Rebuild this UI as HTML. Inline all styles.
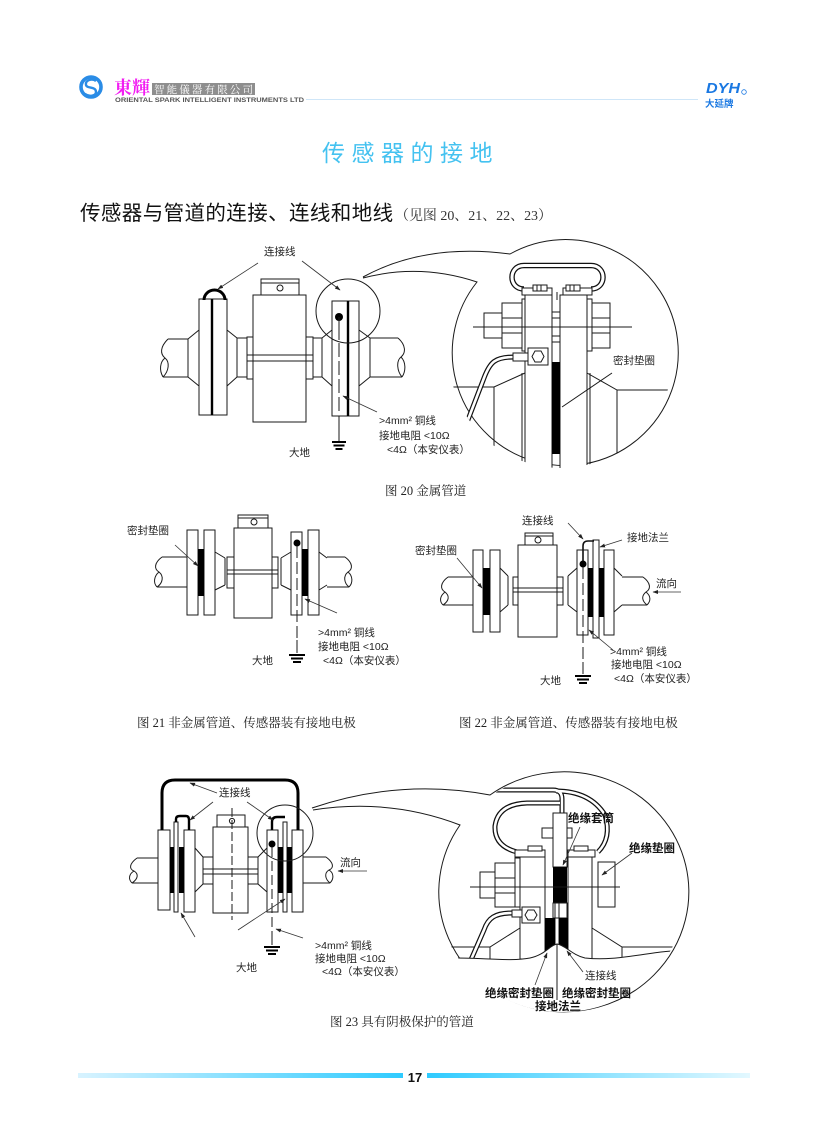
<!DOCTYPE html>
<html><head><meta charset="utf-8">
<style>
html,body{margin:0;padding:0;background:#fff;}
svg{display:block;}
.s{fill:none;stroke:#1a1a1a;stroke-width:1;}
.w{fill:#fff;stroke:#1a1a1a;stroke-width:1;}
.k{fill:#000;stroke:none;}
.l{fill:none;stroke:#333;stroke-width:0.8;}
.t{font-family:"Liberation Sans","Noto Sans CJK SC",sans-serif;font-size:10.5px;fill:#222;}
.b{font-family:"Liberation Sans","Noto Sans CJK SC",sans-serif;font-size:11.5px;font-weight:bold;fill:#111;}
.c{font-family:"Liberation Serif","Noto Serif CJK SC",serif;font-size:12.5px;fill:#222;}
</style></head><body>
<svg width="837" height="1144" viewBox="0 0 837 1144" xmlns="http://www.w3.org/2000/svg">
<defs>
<marker id="a" viewBox="0 0 10 10" refX="9" refY="5" markerWidth="7" markerHeight="7" orient="auto"><path d="M0,1.5 L10,5 L0,8.5 z" fill="#222"/></marker>
<linearGradient id="gl" x1="0" x2="1" y1="0" y2="0"><stop offset="0" stop-color="#d8f3ff"/><stop offset="1" stop-color="#2fcbff"/></linearGradient>
<linearGradient id="gr" x1="0" x2="1" y1="0" y2="0"><stop offset="0" stop-color="#2fcbff"/><stop offset="1" stop-color="#e3f8ff"/></linearGradient>
<clipPath id="c20"><circle cx="561" cy="356" r="112"/></clipPath>
<clipPath id="c23"><ellipse cx="562" cy="893" rx="124" ry="119"/></clipPath>
</defs>

<!-- HEADER -->
<circle cx="91" cy="87" r="10" fill="none" stroke="#2a8ce6" stroke-width="3.6"/>
<path d="M96,81 C92,78 85,80 86,85 C87,89 96,86 96,92 C96,96 89,97 85,94" fill="none" stroke="#2a8ce6" stroke-width="2.4"/>
<text x="114" y="94" font-family="Liberation Serif,'Noto Serif CJK SC',serif" font-size="18" font-weight="bold" fill="#f21ef2">東輝</text>
<rect x="152" y="83" width="103" height="12" fill="#8e8e8e"/>
<text x="154" y="93" font-family="Liberation Serif,'Noto Serif CJK TC',serif" font-size="10.5" fill="#fff" textLength="99" lengthAdjust="spacing">智能儀器有限公司</text>
<text x="115" y="102" font-family="Liberation Sans,sans-serif" font-size="6" font-weight="bold" fill="#555" textLength="189" lengthAdjust="spacingAndGlyphs">ORIENTAL  SPARK  INTELLIGENT  INSTRUMENTS  LTD</text>
<line x1="306" y1="99.5" x2="698" y2="99.5" stroke="#cfe6f8" stroke-width="1"/>
<text x="706" y="93" font-family="Liberation Sans,sans-serif" font-size="15" font-weight="bold" font-style="italic" fill="#1a78e2" textLength="34" lengthAdjust="spacingAndGlyphs">DYH</text>
<circle cx="744" cy="92" r="2.3" fill="none" stroke="#1a78e2" stroke-width="0.8"/>
<text x="705" y="107" font-family="Liberation Sans,'Noto Sans CJK SC',sans-serif" font-size="9.5" font-weight="bold" fill="#1a78e2">大延牌</text>

<!-- TITLE -->
<text x="322" y="161" font-family="Liberation Sans,'Noto Sans CJK SC',sans-serif" font-size="23" fill="#44c2f0" letter-spacing="6.5">传感器的接地</text>
<text x="80" y="220" fill="#111"><tspan font-family="Liberation Sans,'Noto Sans CJK SC',sans-serif" font-size="20.5" letter-spacing="0.4">传感器与管道的连接、连线和地线</tspan><tspan font-family="Liberation Serif,'Noto Serif CJK SC',serif" font-size="14" fill="#333" x="395" textLength="157" lengthAdjust="spacing">（见图 20、21、22、23）</tspan></text>

<!-- ================= FIG 20 ================= -->
<g class="s">
<path d="M168,339 H188 M163,377 H188 M168,339 C160,347 160,354 165,358 C170,362 169,371 163,377 M165,358 C160,362 159,370 163,377"/>
<path d="M188,339 L199,330 M188,377 L199,386 M188,339 V377"/>
<rect class="w" x="199" y="299" width="28" height="116"/>
<path d="M227,330 L237,338 M227,386 L237,377"/>
<rect x="237" y="338" width="10" height="39"/>
<rect x="247" y="337" width="6" height="42"/>
<rect class="w" x="253" y="295" width="53" height="127"/>
<rect class="w" x="261" y="279" width="38" height="16"/>
<path d="M261,283 H299"/>
<circle cx="280" cy="288" r="3"/>
<path d="M247,355 H313 M247,361 H313"/>
<rect x="306" y="337" width="7" height="42"/>
<rect x="313" y="338" width="9" height="39"/>
<path d="M322,338 L332,330 M322,377 L332,386"/>
<rect class="w" x="332" y="301" width="27" height="115"/>
<path d="M359,330 L370,338 M359,386 L370,377 M370,338 V377"/>
<path d="M370,338 H398 M370,377 H402 M398,338 C406,345 406,353 401,357 C396,361 397,371 402,377 M401,357 C406,362 406,371 402,377"/>
</g>
<line x1="212" y1="299" x2="212" y2="415" stroke="#000" stroke-width="2.4"/>
<line x1="348" y1="301" x2="348" y2="416" stroke="#000" stroke-width="2.4"/>
<path d="M204,300 A10.5,10 0 0 1 225,300" fill="none" stroke="#000" stroke-width="3"/>
<circle cx="339" cy="317" r="4" fill="#000"/>
<path class="s" d="M339,317 V340"/>
<path class="s" d="M339,343 V413" stroke-dasharray="14,4"/>
<path class="s" d="M339,416 V441"/>
<g stroke="#000" stroke-width="2"><line x1="332" y1="442" x2="346" y2="442"/><line x1="333.5" y1="445.5" x2="344.5" y2="445.5"/><line x1="335.5" y1="449" x2="342.5" y2="449"/></g>
<circle class="s" cx="348" cy="311" r="32"/>
<path class="l" d="M258,263 L218,289" marker-end="url(#a)"/>
<path class="l" d="M302,261 L340,290" marker-end="url(#a)"/>
<path class="l" d="M377,412 L343,396" marker-end="url(#a)"/>
<text class="t" x="264" y="255">连接线</text>
<text class="t" x="379" y="424">&gt;4mm² 铜线</text>
<text class="t" x="379" y="439">接地电阻 &lt;10Ω</text>
<text class="t" x="387" y="453">&lt;4Ω（本安仪表）</text>
<text class="t" x="289" y="456">大地</text>

<!-- fig20 bubble -->
<path class="s" d="M363,277 Q425,243 510,254 A113,113 0 1 1 477,282 Q420,263 363,278"/>
<g clip-path="url(#c20)">
<path class="s" d="M440,387 H494 L525,373 M494,387 V480 M587,373 L617,390 H690 M617,390 V480 M522,373 V480 M590,373 V480"/>
<rect class="w" x="525" y="295" width="27" height="190"/>
<rect class="w" x="560" y="295" width="27" height="190"/>
<rect class="k" x="552" y="362" width="8" height="92"/>
<rect class="w" x="552" y="312" width="8" height="30"/>
<path class="s" d="M552,318 H560 M552,336 H560"/>
<rect class="w" x="484" y="313" width="18" height="25"/>
<rect class="w" x="502" y="303" width="20" height="45"/>
<path class="s" d="M502,318 H522 M502,333 H522"/>
<rect class="w" x="522" y="299" width="3" height="52"/>
<rect class="w" x="587" y="299" width="5" height="52"/>
<rect class="w" x="592" y="303" width="18" height="45"/>
<path class="s" d="M592,318 H610 M592,333 H610"/>
<path class="s" d="M473,327 H632"/>
<path d="M524,289 C508,289 508,265.5 524,265.5 H591 C607,265.5 607,289 591,289" fill="none" stroke="#111" stroke-width="5.5"/>
<path d="M524,289 C508,289 508,265.5 524,265.5 H591 C607,265.5 607,289 591,289" fill="none" stroke="#fff" stroke-width="3"/>
<rect class="w" x="522" y="288" width="30" height="7"/>
<rect class="w" x="563" y="288" width="29" height="7"/>
<rect class="w" x="533" y="285" width="14" height="6"/>
<rect class="w" x="566" y="285" width="14" height="6"/>
<path class="s" d="M537,285 V291 M541,285 V291 M570,285 V291 M574,285 V291 M557,292 V300"/>
<path d="M514,357 C495,357 490,362 484,378 L466,425" fill="none" stroke="#111" stroke-width="5"/>
<path d="M514,357 C495,357 490,362 484,378 L466,425" fill="none" stroke="#fff" stroke-width="2.6"/>
<rect class="w" x="513" y="353" width="15" height="8"/>
<rect class="w" x="528" y="348" width="20" height="17"/>
<polygon class="s" points="532,356.5 535,351 541,351 544,356.5 541,362 535,362"/>
<path class="s" d="M612,373 L562,407"/>
</g>
<text class="t" x="613" y="364">密封垫圈</text>
<text class="c" x="385" y="495">图 20  金属管道</text>

<!-- ================= FIG 21 ================= -->
<g class="s">
<path d="M162,557 H187 M157,587 H187 M162,557 C154,563 154,569 159,572 C164,576 163,583 157,587 M159,572 C154,576 153,583 157,587"/>
<rect class="w" x="187" y="530" width="11" height="85"/>
<rect class="w" x="204" y="530" width="11" height="85"/>
<path d="M215,552 L225,558 M215,590 L225,585 M225,558 V585"/>
<rect x="227" y="557" width="7" height="31"/>
<rect class="w" x="234" y="528" width="38" height="90"/>
<rect class="w" x="238" y="515" width="30" height="13"/>
<path d="M238,518 H268"/>
<circle cx="254" cy="522" r="3"/>
<path d="M227,570 H278 M227,574 H278"/>
<rect x="272" y="557" width="6" height="31"/>
<path d="M281,558 L291,552 M281,585 L291,590 M281,558 V585"/>
<rect class="w" x="291" y="532" width="11" height="83"/>
<rect class="w" x="308" y="530" width="11" height="85"/>
<path d="M319,552 L327,558 M319,590 L327,585"/>
<path d="M327,557 H345 M327,587 H349 M345,557 C353,563 353,569 348,572 C343,576 344,583 349,587 M348,572 C353,576 353,583 349,587"/>
</g>
<rect class="k" x="198" y="549" width="6" height="47"/>
<rect class="k" x="302" y="549" width="6" height="47"/>
<circle cx="297" cy="543" r="3.5" fill="#000"/>
<path class="s" d="M297,546 V640" stroke-dasharray="12,4"/>
<path class="s" d="M297,640 V653"/>
<g stroke="#000" stroke-width="2"><line x1="289" y1="655" x2="305" y2="655"/><line x1="291" y1="658.5" x2="303" y2="658.5"/><line x1="293" y1="662" x2="301" y2="662"/></g>
<path class="l" d="M175,545 L198,566" marker-end="url(#a)"/>
<path class="l" d="M337,613 L305,599" marker-end="url(#a)"/>
<text class="t" x="127" y="534">密封垫圈</text>
<text class="t" x="318" y="636">&gt;4mm² 铜线</text>
<text class="t" x="318" y="650">接地电阻 &lt;10Ω</text>
<text class="t" x="323" y="664">&lt;4Ω（本安仪表）</text>
<text class="t" x="252" y="664">大地</text>
<text class="c" x="137" y="727">图 21  非金属管道、传感器装有接地电极</text>

<!-- ================= FIG 22 ================= -->
<g class="s">
<path d="M448,577 H473 M443,605 H473 M448,577 C440,583 440,589 445,592 C450,596 449,601 443,605 M445,592 C440,596 439,601 443,605"/>
<rect class="w" x="473" y="550" width="10" height="82"/>
<rect class="w" x="490" y="550" width="10" height="82"/>
<path d="M500,568 L508,576 M500,612 L508,605 M508,576 V605"/>
<rect x="513" y="577" width="5" height="28"/>
<rect class="w" x="518" y="545" width="39" height="92"/>
<rect class="w" x="525" y="533" width="28" height="12"/>
<path d="M525,536 H553"/>
<circle cx="538" cy="540" r="3"/>
<path d="M513,588 H563 M513,592 H563"/>
<rect x="557" y="577" width="6" height="28"/>
<path d="M568,576 L577,568 M568,605 L577,612 M568,576 V605"/>
<rect class="w" x="577" y="550" width="11" height="85"/>
<rect class="w" x="593" y="540" width="6" height="98"/>
<rect class="w" x="604" y="550" width="10" height="85"/>
<path d="M614,568 L622,576 M614,612 L622,605"/>
<path d="M622,577 H643 M622,605 H647 M643,577 C651,583 651,589 646,592 C641,596 642,601 647,605 M646,592 C651,596 651,601 647,605"/>
</g>
<rect class="k" x="483" y="568" width="7" height="47"/>
<rect class="k" x="588" y="568" width="5" height="49"/>
<rect class="k" x="599" y="568" width="5" height="49"/>
<path d="M583,562 V546 Q583,541 588,541 H594" fill="none" stroke="#111" stroke-width="1.6"/>
<circle cx="583" cy="564" r="3.5" fill="#000"/>
<path class="s" d="M583,567 V662" stroke-dasharray="12,4"/>
<path class="s" d="M583,662 V674"/>
<g stroke="#000" stroke-width="2"><line x1="575" y1="676" x2="591" y2="676"/><line x1="577" y1="679.5" x2="589" y2="679.5"/><line x1="579" y1="683" x2="587" y2="683"/></g>
<path class="l" d="M568,523 L583,539" marker-end="url(#a)"/>
<path class="l" d="M622,540 L600,547" marker-end="url(#a)"/>
<path class="l" d="M457,558 L482,588" marker-end="url(#a)"/>
<path class="l" d="M613,650 L589,630" marker-end="url(#a)"/>
<path class="l" d="M681,592 L653,592" marker-end="url(#a)"/>
<text class="t" x="522" y="524">连接线</text>
<text class="t" x="627" y="541">接地法兰</text>
<text class="t" x="415" y="554">密封垫圈</text>
<text class="t" x="656" y="587">流向</text>
<text class="t" x="610" y="655">&gt;4mm² 铜线</text>
<text class="t" x="611" y="668">接地电阻 &lt;10Ω</text>
<text class="t" x="614" y="682">&lt;4Ω（本安仪表）</text>
<text class="t" x="540" y="684">大地</text>
<text class="c" x="459" y="727">图 22  非金属管道、传感器装有接地电极</text>

<!-- ================= FIG 23 ================= -->
<g class="s">
<path d="M137,858 H158 M132,883 H158 M137,858 C129,864 129,869 134,871 C139,874 138,879 132,883 M134,871 C129,874 128,879 132,883"/>
<rect class="w" x="158" y="830" width="12" height="80"/>
<rect class="w" x="174" y="822" width="4" height="90"/>
<rect class="w" x="184" y="830" width="11" height="82"/>
<path d="M195,848 L203,857 M195,892 L203,884"/>
<rect x="203" y="857" width="10" height="27"/>
<rect class="w" x="213" y="827" width="35" height="86"/>
<rect class="w" x="217" y="815" width="28" height="12"/>
<circle cx="232" cy="821" r="2.6"/>
<path d="M203,869 H258 M203,874 H258"/>
<rect x="248" y="857" width="10" height="27"/>
<path d="M258,857 L267,848 M258,884 L267,892"/>
<rect class="w" x="267" y="830" width="11" height="82"/>
<rect class="w" x="283" y="822" width="4" height="90"/>
<rect class="w" x="292" y="830" width="11" height="82"/>
<path d="M303,857 H326 M303,883 H330 M326,857 C334,863 334,868 329,870 C324,873 325,879 330,883 M329,870 C334,873 334,879 330,883"/>
</g>
<path class="s" d="M232,808 V920" stroke-dasharray="9,3"/>
<rect class="k" x="170" y="847" width="4" height="46"/>
<rect class="k" x="179" y="847" width="5" height="46"/>
<rect class="k" x="278" y="847" width="5" height="46"/>
<rect class="k" x="287" y="847" width="5" height="46"/>
<path d="M162,830 V793 Q162,780 175,780 H285 Q298,780 298,793 V830" fill="none" stroke="#000" stroke-width="3"/>
<path d="M176,822 V819 Q176,816 180,816 H186 Q189,816 189,820 V830" fill="none" stroke="#000" stroke-width="2.4"/>
<path d="M272,830 V822 Q272,817 277,817 H285" fill="none" stroke="#000" stroke-width="2.4"/>
<circle cx="272" cy="844" r="3.5" fill="#000"/>
<path class="s" d="M272,847 V935" stroke-dasharray="10,4"/>
<path class="s" d="M272,935 V945"/>
<g stroke="#000" stroke-width="2"><line x1="264" y1="947" x2="280" y2="947"/><line x1="266" y1="950.5" x2="278" y2="950.5"/><line x1="268" y1="954" x2="276" y2="954"/></g>
<circle class="s" cx="285" cy="833" r="28"/>
<path class="l" d="M217,793 L190,783" marker-end="url(#a)"/>
<path class="l" d="M213,802 L190,820" marker-end="url(#a)"/>
<path class="l" d="M247,802 L273,820" marker-end="url(#a)"/>
<path class="l" d="M195,937 L181,913" marker-end="url(#a)"/>
<path class="l" d="M238,930 L285,899" marker-end="url(#a)"/>
<path class="l" d="M303,938 L276,929" marker-end="url(#a)"/>
<path class="l" d="M367,871 L338,871" marker-end="url(#a)"/>
<text class="t" x="219" y="796">连接线</text>
<text class="t" x="340" y="866">流向</text>
<text class="t" x="315" y="949">&gt;4mm² 铜线</text>
<text class="t" x="315" y="962">接地电阻 &lt;10Ω</text>
<text class="t" x="322" y="975">&lt;4Ω（本安仪表）</text>
<text class="t" x="236" y="971">大地</text>

<!-- fig23 bubble -->
<path class="s" d="M312,808 Q400,778 490,795 A125,120 0 1 1 460,825 Q390,798 313,810"/>
<g clip-path="url(#c23)">
<path class="s" d="M438,947 H490 L520,928 M490,947 V962 M592,928 L622,947 H692 M622,947 V962"/>
<path d="M490,790 H553 Q562,790 562,799 V815" fill="none" stroke="#111" stroke-width="5"/>
<path d="M556,791 Q590,791 605,815 Q612,838 598,852" fill="none" stroke="#111" stroke-width="5"/>
<path d="M560,803 H527 Q498,804 495,826 Q494,846 517,852" fill="none" stroke="#111" stroke-width="5"/>
<path d="M490,790 H553 Q562,790 562,799 V815" fill="none" stroke="#fff" stroke-width="2.5"/>
<path d="M556,791 Q590,791 605,815 Q612,838 598,852" fill="none" stroke="#fff" stroke-width="2.5"/>
<path d="M560,803 H527 Q498,804 495,826 Q494,846 517,852" fill="none" stroke="#fff" stroke-width="2.5"/>
<rect class="w" x="520" y="855" width="25" height="104"/>
<rect class="w" x="568" y="855" width="24" height="104"/>
<rect class="w" x="515" y="858" width="5" height="49"/>
<rect class="w" x="495" y="863" width="20" height="44"/>
<path class="s" d="M495,878 H515 M495,893 H515"/>
<rect class="w" x="480" y="872" width="15" height="26"/>
<rect class="w" x="598" y="862" width="17" height="45"/>
<rect class="w" x="553" y="813" width="14" height="54"/>
<rect class="k" x="553" y="867" width="14" height="36"/>
<rect class="w" x="553" y="903" width="14" height="15"/>
<path class="s" d="M555,903 V958 M559,903 V958"/>
<rect class="k" x="545" y="918" width="10" height="40"/>
<rect class="k" x="559" y="918" width="9" height="40"/>
<rect class="w" x="542" y="828" width="11" height="10"/>
<rect class="w" x="567" y="828" width="5" height="10"/>
<rect class="w" x="515" y="850" width="30" height="7"/>
<rect class="w" x="528" y="846" width="14" height="5"/>
<rect class="w" x="568" y="850" width="27" height="7"/>
<rect class="w" x="574" y="846" width="14" height="5"/>
<path class="s" d="M470,887 H620"/>
<path d="M512,913 C495,913 488,918 484,930 L470,962" fill="none" stroke="#111" stroke-width="5"/>
<path d="M512,913 C495,913 488,918 484,930 L470,962" fill="none" stroke="#fff" stroke-width="2.6"/>
<rect class="w" x="512" y="910" width="10" height="7"/>
<rect class="w" x="522" y="907" width="18" height="16"/>
<polygon class="s" points="525,915 528,910 534,910 537,915 534,920 528,920"/>
<path d="M436,962 L436,958 C480,957 510,962 530,958 C545,955 550,945 557,944 C565,945 572,955 585,958 C620,962 650,950 694,950 V1020 H436 Z" fill="#fff" stroke="none"/>
<path class="s" d="M436,958 C480,957 510,962 530,958 C545,955 550,945 557,944 C565,945 572,955 585,958 C620,962 650,950 694,950"/>
<path class="s" d="M557,944 V1000"/>
</g>
<path class="l" d="M580,827 L563,865" marker-end="url(#a)"/>
<path class="l" d="M632,853 L602,875" marker-end="url(#a)"/>
<path class="l" d="M583,972 L567,951" marker-end="url(#a)"/>
<path class="l" d="M535,985 L547,953" marker-end="url(#a)"/>
<text class="b" x="568" y="822">绝缘套筒</text>
<text class="b" x="629" y="852">绝缘垫圈</text>
<text class="t" x="585" y="979">连接线</text>
<text class="b" x="485" y="997">绝缘密封垫圈</text>
<text class="b" x="562" y="997">绝缘密封垫圈</text>
<text class="b" x="535" y="1010">接地法兰</text>
<text class="c" x="330" y="1026">图 23  具有阴极保护的管道</text>

<!-- FOOTER -->
<rect x="78" y="1073" width="325" height="5" fill="url(#gl)"/>
<rect x="427" y="1073" width="323" height="5" fill="url(#gr)"/>
<text x="415" y="1082" text-anchor="middle" font-family="Liberation Sans,sans-serif" font-size="13" font-weight="bold" fill="#111">17</text>
</svg>
</body></html>
